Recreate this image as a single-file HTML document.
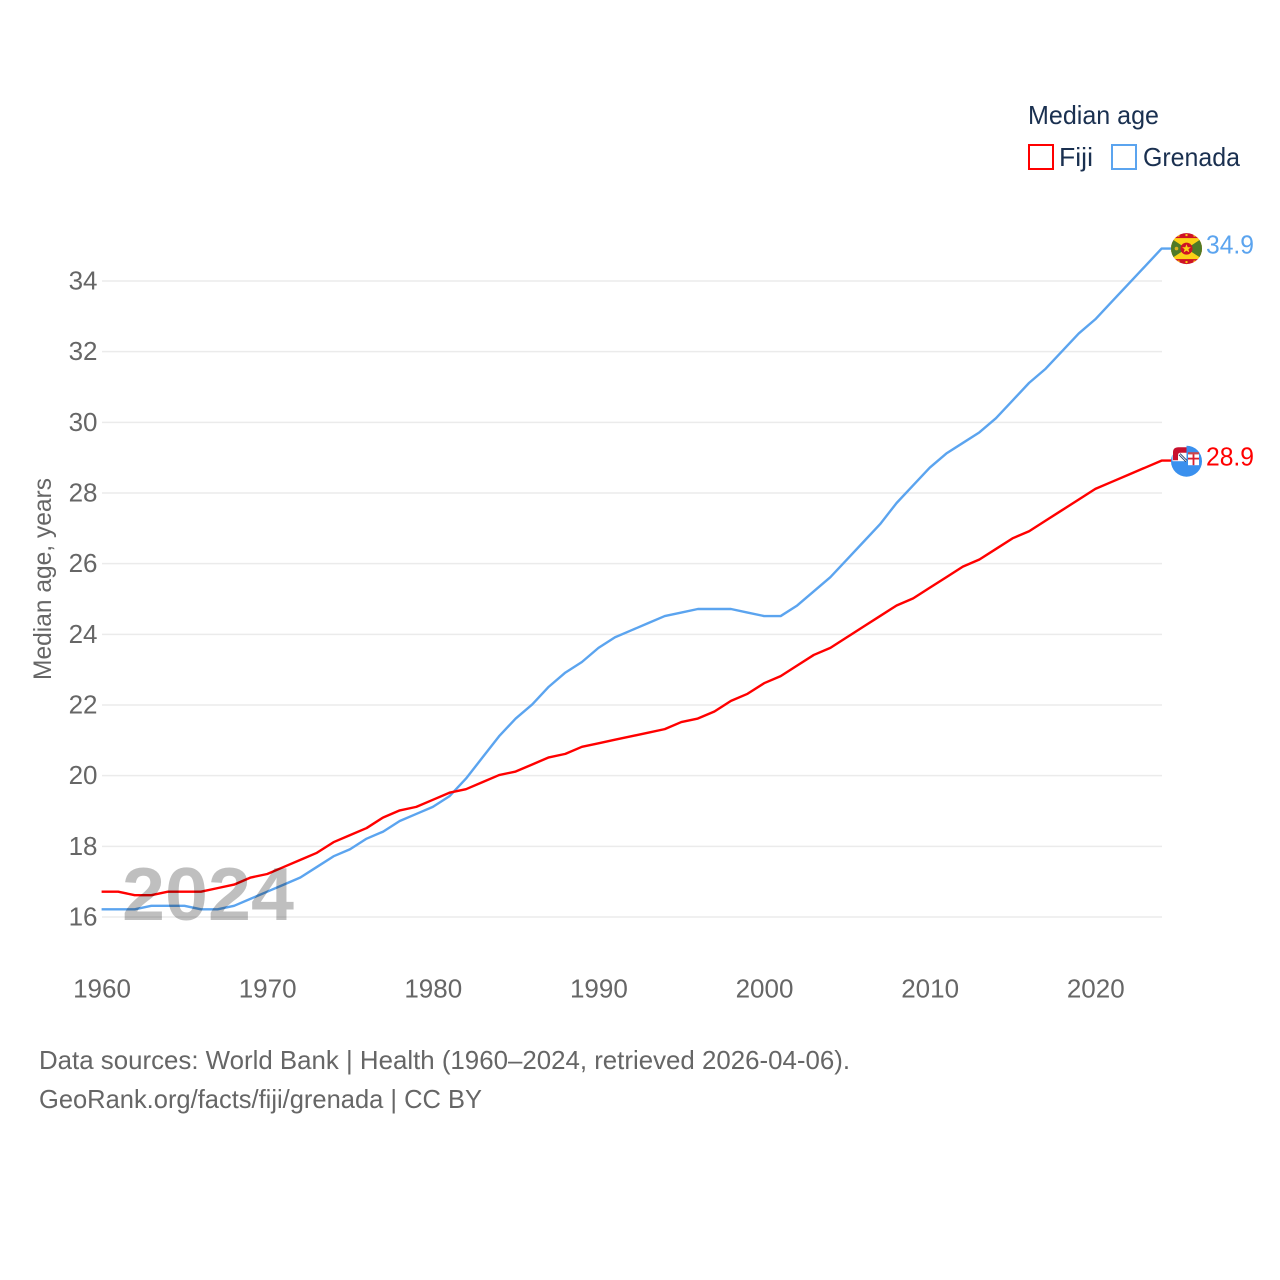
<!DOCTYPE html>
<html lang="en">
<head>
<meta charset="utf-8">
<title>Median age: Fiji and Grenada</title>
<style>
html,body{margin:0;padding:0;background:#fff;width:1280px;height:1280px;overflow:hidden}
svg{display:block}
text{font-family:"Liberation Sans",sans-serif}
</style>
</head>
<body>
<svg id="chart" xmlns="http://www.w3.org/2000/svg" width="1280" height="1280" viewBox="0 0 1280 1280">
  <rect width="1280" height="1280" fill="#fff"/>
  <g id="grid"></g>
  <g id="yticks"></g>
  <g id="xticks"></g>
  <text transform="translate(51,680) rotate(-90)" font-size="25" fill="#666" textLength="202" lengthAdjust="spacingAndGlyphs">Median age, years</text>
  <g id="lines"></g>
  <text x="122" y="920" font-size="75" font-weight="700" fill="#000" fill-opacity="0.25" textLength="172" lengthAdjust="spacingAndGlyphs">2024</text>

  <defs>
    <clipPath id="flag-clip"><circle cx="0" cy="0" r="15.5"/></clipPath>
  </defs>

  <g id="flag-grenada">
    <g clip-path="url(#flag-clip)">
      <rect x="-16" y="-16" width="32" height="32" fill="#ce1126"/>
      <rect x="-16" y="-10.5" width="32" height="21" fill="#fcd116"/>
      <polygon points="-16,-10.5 0,0 -16,10.5" fill="#4f7a28"/>
      <polygon points="16,-10.5 0,0 16,10.5" fill="#4f7a28"/>
      <circle cx="0" cy="0" r="6" fill="#ce1126"/>
      <polygon points="0,-4.4 1.2,-1.3 4.4,-1.3 1.9,0.7 2.8,3.8 0,2 -2.8,3.8 -1.9,0.7 -4.4,-1.3 -1.2,-1.3" fill="#fcd116"/>
      <circle cx="-10" cy="0" r="1.8" fill="#d8b020"/>
      <rect x="-9" y="-14" width="2" height="2" fill="#fcd116"/>
      <rect x="-1" y="-14.5" width="2" height="2" fill="#fcd116"/>
      <rect x="7" y="-14" width="2" height="2" fill="#fcd116"/>
      <rect x="-9" y="12" width="2" height="2" fill="#fcd116"/>
      <rect x="-1" y="12.5" width="2" height="2" fill="#fcd116"/>
      <rect x="7" y="12" width="2" height="2" fill="#fcd116"/>
    </g>
  </g>

  <g id="flag-fiji">
    <g transform="translate(0,0.6)">
      <circle cx="0" cy="0" r="15.5" fill="#3a90ee"/>
      <rect x="-14" y="-16" width="14" height="16" fill="#fff"/>
      <path d="M-13.5,-1 V-9 Q-13.5,-14 -8,-14 H0 V-8.5 H-6 Q-8.5,-8.5 -8.5,-6 V-1 Z" fill="#c8102e"/>
      <path d="M-7,-7 L0,0" stroke="#23406e" stroke-width="2.6"/>
      <path d="M-7,-7 L0,0" stroke="#fff" stroke-width="0.8"/>
      <rect x="1.5" y="-8" width="11" height="12" fill="#fff"/>
      <rect x="6.1" y="-8" width="1.8" height="12" fill="#d8202f"/>
      <rect x="1.5" y="-3.5" width="11" height="1.8" fill="#d8202f"/>
      <rect x="1.5" y="-9" width="11" height="2.2" fill="#c8484e"/>
    </g>
  </g>

  <g id="endlabels"></g>

  <g>
    <text x="1028" y="124" font-size="26" fill="#1a3050" textLength="131" lengthAdjust="spacingAndGlyphs">Median age</text>
    <g>
      <rect x="1029" y="145" width="24" height="24" fill="#fff" stroke="#ff0000" stroke-width="2"/>
      <text x="1059" y="166" font-size="26" fill="#1a3050" textLength="34" lengthAdjust="spacingAndGlyphs">Fiji</text>
    </g>
    <g>
      <rect x="1112" y="145" width="24" height="24" fill="#fff" stroke="#5ba4ef" stroke-width="2"/>
      <text x="1143" y="166" font-size="26" fill="#1a3050" textLength="97" lengthAdjust="spacingAndGlyphs">Grenada</text>
    </g>
  </g>

  <text x="39" y="1069" font-size="26" fill="#666" textLength="811" lengthAdjust="spacingAndGlyphs">Data sources: World Bank | Health (1960–2024, retrieved 2026-04-06).</text>
  <text x="39" y="1108" font-size="26" fill="#666" textLength="443" lengthAdjust="spacingAndGlyphs">GeoRank.org/facts/fiji/grenada | CC BY</text>
</svg>

<script>
const years = [1960,1961,1962,1963,1964,1965,1966,1967,1968,1969,1970,1971,1972,1973,1974,1975,1976,1977,1978,1979,1980,1981,1982,1983,1984,1985,1986,1987,1988,1989,1990,1991,1992,1993,1994,1995,1996,1997,1998,1999,2000,2001,2002,2003,2004,2005,2006,2007,2008,2009,2010,2011,2012,2013,2014,2015,2016,2017,2018,2019,2020,2021,2022,2023,2024];
const fijiValues = [16.7,16.7,16.6,16.6,16.7,16.7,16.7,16.8,16.9,17.1,17.2,17.4,17.6,17.8,18.1,18.3,18.5,18.8,19.0,19.1,19.3,19.5,19.6,19.8,20.0,20.1,20.3,20.5,20.6,20.8,20.9,21.0,21.1,21.2,21.3,21.5,21.6,21.8,22.1,22.3,22.6,22.8,23.1,23.4,23.6,23.9,24.2,24.5,24.8,25.0,25.3,25.6,25.9,26.1,26.4,26.7,26.9,27.2,27.5,27.8,28.1,28.3,28.5,28.7,28.9];
const grenadaValues = [16.2,16.2,16.2,16.3,16.3,16.3,16.2,16.2,16.3,16.5,16.7,16.9,17.1,17.4,17.7,17.9,18.2,18.4,18.7,18.9,19.1,19.4,19.9,20.5,21.1,21.6,22.0,22.5,22.9,23.2,23.6,23.9,24.1,24.3,24.5,24.6,24.7,24.7,24.7,24.6,24.5,24.5,24.8,25.2,25.6,26.1,26.6,27.1,27.7,28.2,28.7,29.1,29.4,29.7,30.1,30.6,31.1,31.5,32.0,32.5,32.9,33.4,33.9,34.4,34.9];
const yTickValues = [16,18,20,22,24,26,28,30,32,34];
const xTickValues = [1960,1970,1980,1990,2000,2010,2020];

const SVG_NS = 'http://www.w3.org/2000/svg';
const xScale = function (year) { return 101.6 + (year - 1960) * (1161.6 - 101.6) / 64; };
const gridX = function (year) { return 102 + (year - 1960) * (1162 - 102) / 64; };
const yScale = function (value) { return 917 - (value - 16) * (917 - 281) / 18; };
const lineY = function (value) { return yScale(value) - 0.6; };

function make(tag, parent) {
  const el = document.createElementNS(SVG_NS, tag);
  parent.appendChild(el);
  return el;
}

const gridLayer = document.getElementById('grid');
const yLayer = document.getElementById('yticks');
yTickValues.forEach(function (value) {
  const line = make('line', gridLayer);
  
  
  line.setAttribute('x1', 102);
  line.setAttribute('x2', 1162);
  line.setAttribute('y1', yScale(value));
  line.setAttribute('y2', yScale(value));
  line.setAttribute('stroke', '#ebebeb');
  line.setAttribute('stroke-width', '1.5');

  const label = make('text', yLayer);
  
  
  label.setAttribute('x', 97.5);
  label.setAttribute('y', yScale(value) + 8.5);
  label.setAttribute('text-anchor', 'end');
  label.setAttribute('font-size', '26');
  label.setAttribute('fill', '#666');
  label.textContent = String(value);
});

const xLayer = document.getElementById('xticks');
xTickValues.forEach(function (year) {
  const label = make('text', xLayer);
  
  
  label.setAttribute('x', gridX(year));
  label.setAttribute('y', 997.5);
  label.setAttribute('text-anchor', 'middle');
  label.setAttribute('font-size', '26');
  label.setAttribute('fill', '#666');
  label.textContent = String(year);
});

function drawSeries(values, color, seriesName, flagId) {
  const lineLayer = document.getElementById('lines');
  const path = make('path', lineLayer);
  
  
  const points = values.map(function (value, i) {
    return xScale(years[i]).toFixed(2) + ',' + lineY(value).toFixed(2);
  });
  const lastValue = values[values.length - 1];
  const lastX = gridX(years[years.length - 1]);
  const lastY = lineY(lastValue);
  path.setAttribute('d', 'M' + points.join(' L') + ' L' + (lastX + 10) + ',' + lastY.toFixed(2));
  path.setAttribute('fill', 'none');
  path.setAttribute('stroke', color);
  path.setAttribute('stroke-width', '2.4');
  path.setAttribute('stroke-linejoin', 'round');

  document.getElementById(flagId).setAttribute('transform', 'translate(' + (lastX + 24.5) + ',' + lastY.toFixed(2) + ')');

  const label = make('text', document.getElementById('endlabels'));
  
  
  label.setAttribute('x', lastX + 44);
  label.setAttribute('y', lastY + 5);
  label.setAttribute('font-size', '26');
  label.setAttribute('fill', color);
  label.setAttribute('textLength', '48');
  label.setAttribute('lengthAdjust', 'spacingAndGlyphs');
  label.textContent = lastValue.toFixed(1);
}

drawSeries(grenadaValues, '#5ba4ef', 'grenada', 'flag-grenada');
drawSeries(fijiValues, '#ff0000', 'fiji', 'flag-fiji');
</script>
</body>
</html>
